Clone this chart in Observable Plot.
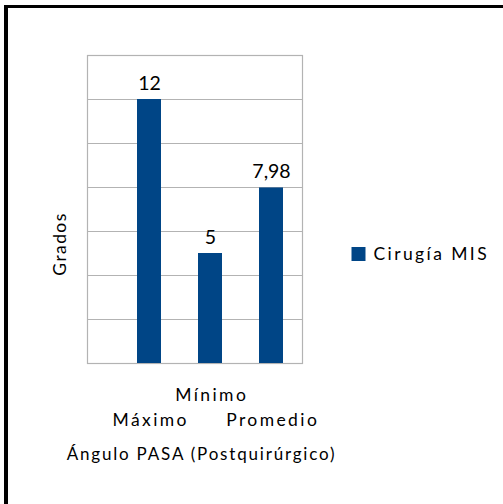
<!DOCTYPE html>
<html>
<head>
<meta charset="utf-8">
<script src="https://cdn.jsdelivr.net/npm/d3@7"></script>
<script src="https://cdn.jsdelivr.net/npm/@observablehq/plot@0.6"></script>
<style>
  html, body { margin: 0; padding: 0; background: #fff; }
  #wrap { position: relative; width: 503px; height: 504px; overflow: hidden;
          font-family: Lato, "Noto Sans", sans-serif; }
  #border { position: absolute; left: 4px; top: 5px; width: 499px; height: 499px;
            border-top: 3px solid #000; border-left: 4px solid #000; box-sizing: border-box; }
  #ytitle { position: absolute; left: 60px; top: 243.5px; font-size: 17.5px; letter-spacing: 1.4px;
            color: #000; white-space: nowrap; line-height: 1;
            transform: translate(-50%, -50%) rotate(-90deg); }
  svg { position: absolute; left: 0; top: 0; }
</style>
</head>
<body>
<div id="wrap"><div id="border"></div><div id="ytitle"></div></div>
<script>
// Ángulo PASA postquirúrgico, cirugía MIS
const categories = ["Máximo", "Mínimo", "Promedio"];
const values = [12, 5, 7.98];
const seriesName = "Cirugía MIS";
const xTitle = "Ángulo PASA (Postquirúrgico)";
const yTitle = "Grados";
const yTicks = [0, 2, 4, 6, 8, 10, 12, 14];

const rows = categories.map((c, i) => ({category: c, value: values[i]}));
const fmt = v => String(v).replace(".", ",");
const blue = "#004586";

document.getElementById("ytitle").textContent = yTitle;

const chart = Plot.plot({
  width: 503,
  height: 504,
  marginLeft: 87,
  marginRight: 201,
  marginTop: 55,
  marginBottom: 141,
  style: {fontFamily: "Lato, 'Noto Sans', sans-serif", background: "transparent"},
  x: {type: "band", domain: categories, range: [99.4, 320.8], padding: 0.6, axis: null},
  y: {domain: [0, 14], axis: null},
  marks: [
    Plot.gridY(yTicks, {stroke: "#b3b3b3", strokeOpacity: 1}),
    Plot.frame({stroke: "#b3b3b3", strokeWidth: 1.2}),
    Plot.barY(rows, {x: "category", y: "value", fill: blue}),
    Plot.text(rows, {x: "category", y: "value", text: d => fmt(d.value),
      lineAnchor: "bottom", dy: -10, fontSize: 19.5, fill: "#000"}),
    // staggered category labels
    Plot.text(rows.filter((d, i) => i % 2 === 1), {x: "category", frameAnchor: "bottom",
      text: "category", lineAnchor: "bottom", dx: 1.2, dy: 37, fontSize: 17.5, fill: "#000"}),
    Plot.text(rows.filter((d, i) => i % 2 === 0), {x: "category", frameAnchor: "bottom",
      text: "category", lineAnchor: "bottom", dx: 1.2, dy: 62, fontSize: 17.5, fill: "#000"}),
    Plot.text([xTitle], {frameAnchor: "bottom", dx: 6.5, dy: 96, lineAnchor: "bottom",
      fontSize: 17, fill: "#000"}),
    // legend
    Plot.dot([seriesName], {frameAnchor: "right", dx: 56, dy: 44.5, symbol: "square", r: 7.9,
      fill: blue, stroke: null}),
    Plot.text([seriesName], {frameAnchor: "right", dx: 71, dy: 50, textAnchor: "start",
      lineAnchor: "bottom", fontSize: 17.5, fill: "#000"})
  ]
});

// wider tracking for the axis and legend wording
const spacing = new Map([
  ...categories.map(c => [c, "2.4px"]),
  [xTitle, "1.8px"],
  [seriesName, "2.4px"]
]);
d3.select(chart).selectAll("text").each(function() {
  const s = spacing.get(this.textContent);
  if (s) this.style.letterSpacing = s;
});

document.getElementById("wrap").appendChild(chart);
</script>
</body>
</html>
